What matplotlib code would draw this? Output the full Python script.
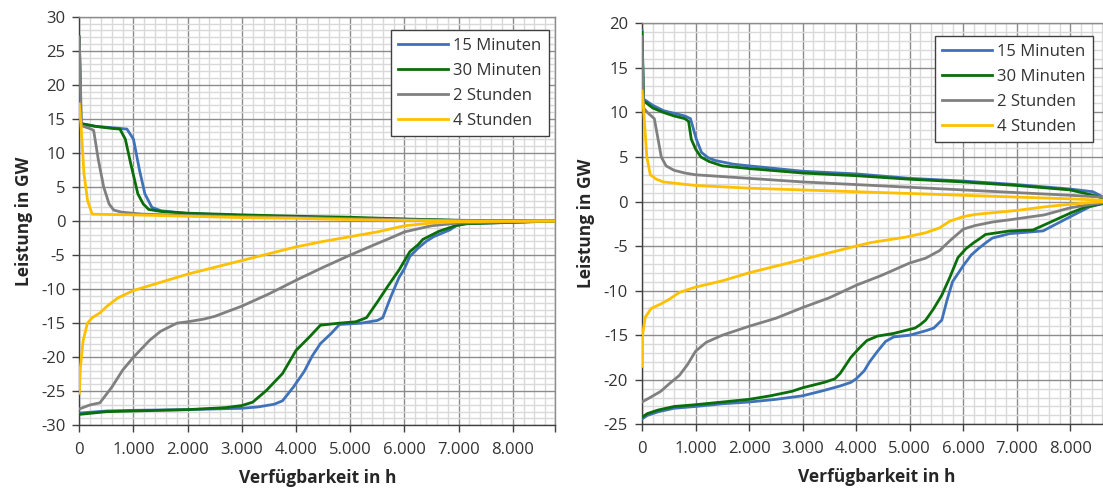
import matplotlib
matplotlib.use("Agg")
import matplotlib.pyplot as plt
from matplotlib.ticker import MultipleLocator, FuncFormatter

plt.rcParams["font.family"] = ["Open Sans", "DejaVu Sans"]
plt.rcParams["axes.unicode_minus"] = False

# ---------------------------------------------------------------------------
# Data: sorted duration curves (hours per year, GW)
# ---------------------------------------------------------------------------
SERIES = ["15 Minuten", "30 Minuten", "2 Stunden", "4 Stunden"]
COLORS = ["#3F72B8", "#0A6E0A", "#808080", "#FFC000"]

X_MAX = 8784
X_TICKS = [0, 1000, 2000, 3000, 4000, 5000, 6000, 7000, 8000]

# left panel
L_YLIM = (-30, 30)
L_15_POS = [(0, 27.0), (30, 14.3), (300, 13.9), (600, 13.7), (880, 13.5), (1000, 12.0),
            (1110, 7.5), (1210, 4.0), (1340, 2.0), (1510, 1.5), (2000, 1.1), (3000, 0.8),
            (4000, 0.6), (5000, 0.4), (6000, 0.25), (7000, 0.1), (8784, 0.0)]
L_15_NEG = [(0, -28.2), (500, -27.9), (1000, -27.8), (2000, -27.7), (2500, -27.6),
            (3000, -27.5), (3300, -27.3), (3600, -26.9), (3750, -26.4), (3950, -24.4),
            (4150, -22.1), (4300, -19.8), (4450, -18.0), (4650, -16.5), (4800, -15.2),
            (5200, -15.0), (5500, -14.6), (5600, -14.2), (5750, -11.1), (5900, -8.3),
            (6000, -7.0), (6100, -5.2), (6250, -4.0), (6400, -3.0), (6540, -2.3),
            (6840, -1.3), (6970, -0.6), (7140, -0.4), (8784, 0.0)]
L_30_POS = [(0, 27.0), (30, 14.3), (300, 13.9), (600, 13.6), (750, 13.5), (850, 12.0),
            (947, 8.5), (1080, 4.0), (1180, 2.5), (1280, 1.7), (1510, 1.4), (2000, 1.15),
            (3000, 0.9), (4000, 0.7), (5000, 0.55), (6000, 0.3), (7000, 0.1), (8784, 0.0)]
L_30_NEG = [(0, -28.4), (500, -28.0), (1000, -27.9), (2000, -27.7), (2700, -27.4),
            (3000, -27.1), (3200, -26.6), (3450, -24.9), (3750, -22.4), (4000, -19.0),
            (4250, -17.0), (4450, -15.3), (4800, -15.0), (5100, -14.8), (5300, -14.2),
            (5500, -11.9), (5700, -9.5), (5900, -7.2), (6100, -4.5), (6250, -3.5),
            (6340, -2.7), (6640, -1.5), (6940, -0.7), (7140, -0.4), (8784, 0.0)]
L_2H_POS = [(0, 27.0), (40, 14.0), (218, 13.5), (265, 13.3), (351, 9.0), (450, 5.0),
            (550, 2.5), (636, 1.6), (780, 1.3), (1180, 1.0), (2000, 0.8), (3000, 0.65),
            (4000, 0.5), (5000, 0.35), (6000, 0.2), (7000, 0.05), (8784, 0.0)]
L_2H_NEG = [(0, -27.6), (200, -27.0), (380, -26.7), (600, -24.4), (800, -21.9),
            (1000, -20.0), (1300, -17.5), (1500, -16.2), (1800, -15.0), (2000, -14.8),
            (2300, -14.4), (2500, -14.0), (3000, -12.5), (3500, -10.7), (4000, -8.7),
            (4500, -6.8), (5000, -5.0), (5500, -3.3), (5800, -2.3), (6000, -1.6),
            (6500, -0.7), (7000, -0.3), (8784, 0.0)]
L_4H_POS = [(0, 17.2), (30, 14.3), (86, 7.0), (152, 3.0), (238, 1.0), (1000, 0.9),
            (2000, 0.7), (3000, 0.5), (4000, 0.4), (5000, 0.2), (6000, 0.1), (7000, 0.0),
            (8784, 0.0)]
L_4H_NEG = [(0, -25.3), (20, -21.5), (70, -17.6), (150, -15.0), (237, -14.2),
            (380, -13.5), (513, -12.5), (710, -11.3), (1000, -10.2), (1500, -9.0),
            (2000, -7.8), (3000, -5.8), (4000, -3.8), (4500, -3.0), (5000, -2.3),
            (5500, -1.6), (6000, -0.7), (6500, -0.3), (7000, -0.1), (8784, 0.0)]

# right panel
R_YLIM = (-25, 20)
R_15_POS = [(0, 19.2), (30, 11.5), (200, 10.8), (400, 10.2), (600, 9.9), (800, 9.6),
            (905, 9.3), (1015, 7.0), (1112, 5.5), (1240, 4.9), (1371, 4.6), (1695, 4.2),
            (2000, 4.0), (3000, 3.4), (4000, 3.1), (5000, 2.6), (6000, 2.3), (7000, 1.9),
            (8000, 1.4), (8420, 1.1), (8550, 0.7), (8650, 0.3), (8784, 0.0)]
R_15_NEG = [(0, -24.4), (100, -24.0), (300, -23.6), (600, -23.2), (1000, -23.0),
            (1500, -22.7), (2000, -22.5), (2500, -22.2), (3000, -21.8), (3400, -21.2),
            (3700, -20.7), (3900, -20.3), (4000, -19.9), (4150, -19.0), (4250, -18.0),
            (4400, -16.8), (4550, -15.7), (4700, -15.2), (5000, -15.0), (5300, -14.5),
            (5450, -14.2), (5600, -13.3), (5700, -11.0), (5800, -9.0), (6000, -7.2),
            (6150, -6.0), (6300, -5.2), (6450, -4.5), (6545, -4.1), (6868, -3.6),
            (7490, -3.3), (8000, -1.7), (8360, -0.6), (8550, -0.3), (8784, 0.0)]
R_30_POS = [(0, 19.0), (30, 11.3), (200, 10.5), (400, 10.0), (600, 9.6), (800, 9.3),
            (870, 9.0), (920, 7.0), (1000, 5.9), (1100, 5.0), (1250, 4.5), (1500, 4.0),
            (2000, 3.7), (3000, 3.2), (4000, 2.9), (5000, 2.5), (6000, 2.2), (7000, 1.8),
            (8000, 1.3), (8500, 0.6), (8650, 0.2), (8784, 0.0)]
R_30_NEG = [(0, -24.2), (100, -23.8), (300, -23.4), (600, -23.0), (1000, -22.8),
            (1500, -22.5), (2000, -22.2), (2400, -21.8), (2800, -21.3), (3000, -20.9),
            (3400, -20.3), (3600, -19.9), (3700, -19.3), (3900, -17.5), (4050, -16.5),
            (4200, -15.6), (4400, -15.1), (4700, -14.8), (4900, -14.5), (5100, -14.2),
            (5200, -13.8), (5300, -13.3), (5450, -12.0), (5600, -10.5), (5750, -8.5),
            (5900, -6.3), (6050, -5.3), (6200, -4.6), (6300, -4.2), (6415, -3.7),
            (6868, -3.3), (7300, -3.2), (7560, -2.5), (8000, -1.3), (8290, -0.6),
            (8550, -0.3), (8784, 0.0)]
R_2H_POS = [(0, 18.5), (30, 10.5), (100, 10.0), (230, 9.3), (300, 7.0), (360, 5.0),
            (450, 4.0), (600, 3.5), (800, 3.2), (1000, 3.0), (1500, 2.8), (2000, 2.6),
            (3000, 2.2), (4000, 1.9), (5000, 1.6), (6000, 1.3), (7000, 1.0), (8000, 0.7),
            (8600, 0.5), (8784, 0.0)]
R_2H_NEG = [(0, -22.5), (150, -22.0), (350, -21.3), (500, -20.5), (700, -19.5),
            (850, -18.3), (1000, -16.8), (1200, -15.8), (1500, -15.0), (1750, -14.5),
            (2000, -14.0), (2500, -13.1), (3000, -11.9), (3500, -10.8), (4000, -9.4),
            (4470, -8.3), (5000, -6.9), (5300, -6.35), (5560, -5.5), (5750, -4.4),
            (6000, -3.1), (6220, -2.7), (6545, -2.3), (6868, -2.05), (7515, -1.5),
            (8000, -0.7), (8420, -0.3), (8600, -0.15), (8784, 0.0)]
R_4H_POS = [(0, 12.4), (30, 10.3), (45, 9.0), (90, 5.0), (155, 3.0), (270, 2.5),
            (400, 2.2), (1000, 1.8), (2000, 1.5), (3000, 1.3), (4000, 1.1), (5000, 0.9),
            (6000, 0.7), (7000, 0.5), (8000, 0.3), (8600, 0.15), (8784, 0.0)]
R_4H_NEG = [(0, -18.5), (10, -15.0), (60, -13.0), (170, -12.0), (350, -11.5),
            (500, -11.0), (700, -10.2), (1000, -9.6), (1500, -8.9), (2000, -8.0),
            (3000, -6.5), (4000, -5.0), (4280, -4.6), (4920, -4.0), (5300, -3.5),
            (5560, -2.95), (5750, -2.2), (6000, -1.7), (6220, -1.45), (7000, -1.0),
            (7515, -0.6), (8000, -0.3), (8550, -0.05), (8784, 0.0)]

LEFT_CURVES = [(L_15_POS, L_15_NEG), (L_30_POS, L_30_NEG),
               (L_2H_POS, L_2H_NEG), (L_4H_POS, L_4H_NEG)]
RIGHT_CURVES = [(R_15_POS, R_15_NEG), (R_30_POS, R_30_NEG),
                (R_2H_POS, R_2H_NEG), (R_4H_POS, R_4H_NEG)]

X_LABEL = "Verfügbarkeit in h"
Y_LABEL = "Leistung in GW"

# ---------------------------------------------------------------------------
W, H = 1103, 490
fig = plt.figure(figsize=(W / 100, H / 100), dpi=100)

TEXT = "#333333"
MAJOR = "#8C8C8C"
MINOR = "#D9D9D9"
AXIS = "#404040"


def px_axes(x0, y0, x1, y1):
    return fig.add_axes([x0 / W, 1 - y1 / H, (x1 - x0) / W, (y1 - y0) / H])


def thousands(v, _pos):
    return f"{int(round(v)):,}".replace(",", ".")


def style(ax, ylim, curves, legend_anchor):
    for (pos, neg), name, col in zip(curves, SERIES, COLORS):
        hx, gy = zip(*pos)
        ax.plot(hx, gy, color=col, lw=2.0, label=name, solid_joinstyle="round", zorder=3)
        hx, gy = zip(*neg)
        ax.plot(hx, gy, color=col, lw=2.0, solid_joinstyle="round", zorder=3)

    ax.set_xlim(0, X_MAX)
    ax.set_ylim(*ylim)
    ax.set_xticks(X_TICKS + [X_MAX])
    ax.xaxis.set_major_formatter(
        FuncFormatter(lambda v, p: "" if v == X_MAX else thousands(v, p)))
    ax.xaxis.set_minor_locator(MultipleLocator(200))
    ax.yaxis.set_major_locator(MultipleLocator(5))
    ax.yaxis.set_minor_locator(MultipleLocator(1))
    ax.yaxis.set_major_formatter(FuncFormatter(lambda v, p: f"{int(round(v))}"))

    ax.grid(which="minor", color=MINOR, lw=1.0, zorder=0)
    ax.grid(which="major", color=MAJOR, lw=1.0, zorder=1)
    ax.set_axisbelow(True)

    ax.tick_params(which="major", direction="out", length=5, width=1, color=AXIS,
                   labelsize=12, labelcolor=TEXT)
    ax.tick_params(which="minor", length=0)
    ax.tick_params(axis="y", pad=5)
    ax.tick_params(axis="x", pad=7)

    for side in ("top", "right"):
        ax.spines[side].set_color(MAJOR)
        ax.spines[side].set_linewidth(1.0)
    for side in ("left", "bottom"):
        ax.spines[side].set_color(AXIS)
        ax.spines[side].set_linewidth(1.0)

    ax.set_xlabel(X_LABEL, fontsize=12.5, fontweight="bold", color="#262626", labelpad=8)
    ax.set_ylabel(Y_LABEL, fontsize=12.5, fontweight="bold", color="#262626", labelpad=6)

    leg = ax.legend(loc="upper right", bbox_to_anchor=legend_anchor,
                    bbox_transform=fig.transFigure, borderaxespad=0,
                    fancybox=False, framealpha=1, edgecolor="#404040",
                    fontsize=12, handlelength=3.0, handletextpad=0.3,
                    labelspacing=0.55, borderpad=0.45)
    leg.get_frame().set_linewidth(1.0)
    for t in leg.get_texts():
        t.set_color(TEXT)


ax_l = px_axes(79.3, 16.7, 555.3, 425.3)
style(ax_l, L_YLIM, LEFT_CURVES, (549 / W, 1 - 30 / H))

ax_r = px_axes(642, 23.3, 1112.3, 424.3)
style(ax_r, R_YLIM, RIGHT_CURVES, (1093 / W, 1 - 36 / H))

fig.savefig("out.png", dpi=100)
